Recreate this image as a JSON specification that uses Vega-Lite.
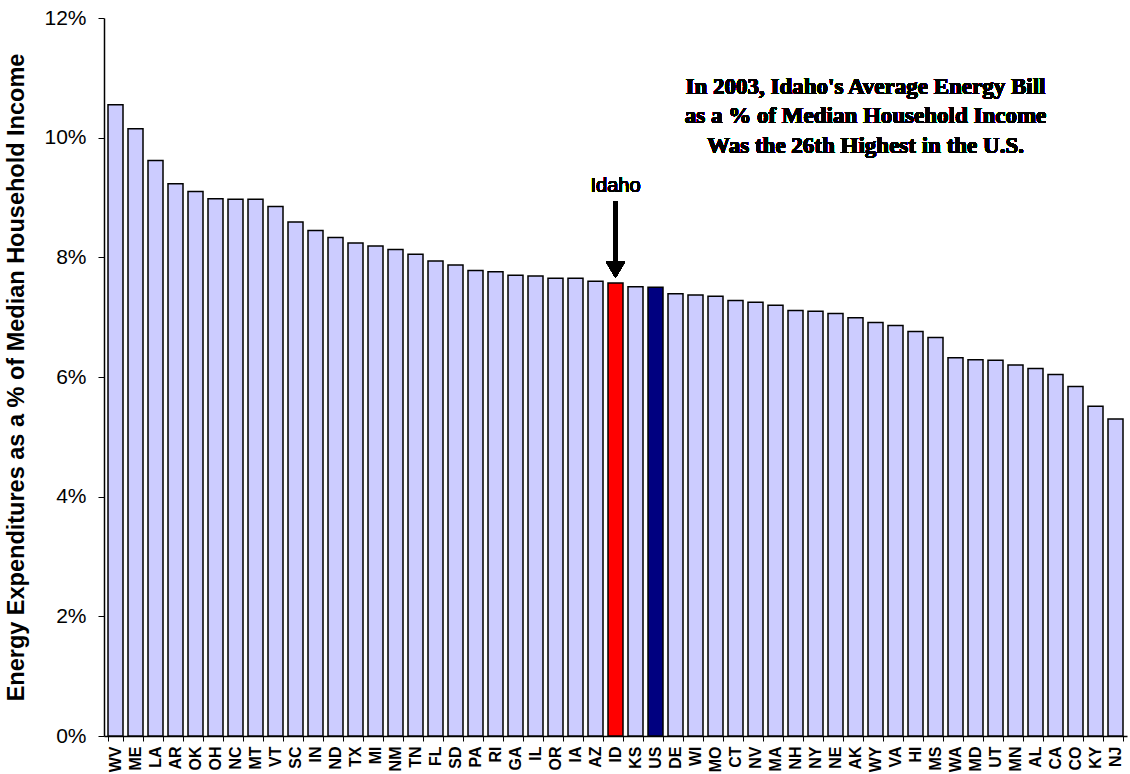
{
  "$schema": "https://vega.github.io/schema/vega-lite/v6.json",
  "width": 1023,
  "height": 718,
  "autosize": "none",
  "padding": {"left": 104, "top": 18, "right": 3, "bottom": 38},
  "background": "white",
  "config": {"view": {"stroke": null}, "font": "Liberation Sans"},
  "data": {
    "values": [
      {"state": "WV", "value": 10.55, "group": "State"},
      {"state": "ME", "value": 10.15, "group": "State"},
      {"state": "LA", "value": 9.62, "group": "State"},
      {"state": "AR", "value": 9.23, "group": "State"},
      {"state": "OK", "value": 9.10, "group": "State"},
      {"state": "OH", "value": 8.98, "group": "State"},
      {"state": "NC", "value": 8.97, "group": "State"},
      {"state": "MT", "value": 8.97, "group": "State"},
      {"state": "VT", "value": 8.85, "group": "State"},
      {"state": "SC", "value": 8.59, "group": "State"},
      {"state": "IN", "value": 8.45, "group": "State"},
      {"state": "ND", "value": 8.33, "group": "State"},
      {"state": "TX", "value": 8.24, "group": "State"},
      {"state": "MI", "value": 8.19, "group": "State"},
      {"state": "NM", "value": 8.13, "group": "State"},
      {"state": "TN", "value": 8.05, "group": "State"},
      {"state": "FL", "value": 7.94, "group": "State"},
      {"state": "SD", "value": 7.87, "group": "State"},
      {"state": "PA", "value": 7.78, "group": "State"},
      {"state": "RI", "value": 7.76, "group": "State"},
      {"state": "GA", "value": 7.70, "group": "State"},
      {"state": "IL", "value": 7.69, "group": "State"},
      {"state": "OR", "value": 7.65, "group": "State"},
      {"state": "IA", "value": 7.65, "group": "State"},
      {"state": "AZ", "value": 7.60, "group": "State"},
      {"state": "ID", "value": 7.57, "group": "Idaho"},
      {"state": "KS", "value": 7.51, "group": "State"},
      {"state": "US", "value": 7.50, "group": "US"},
      {"state": "DE", "value": 7.39, "group": "State"},
      {"state": "WI", "value": 7.37, "group": "State"},
      {"state": "MO", "value": 7.35, "group": "State"},
      {"state": "CT", "value": 7.28, "group": "State"},
      {"state": "NV", "value": 7.25, "group": "State"},
      {"state": "MA", "value": 7.20, "group": "State"},
      {"state": "NH", "value": 7.11, "group": "State"},
      {"state": "NY", "value": 7.10, "group": "State"},
      {"state": "NE", "value": 7.06, "group": "State"},
      {"state": "AK", "value": 6.99, "group": "State"},
      {"state": "WY", "value": 6.91, "group": "State"},
      {"state": "VA", "value": 6.86, "group": "State"},
      {"state": "HI", "value": 6.76, "group": "State"},
      {"state": "MS", "value": 6.66, "group": "State"},
      {"state": "WA", "value": 6.32, "group": "State"},
      {"state": "MD", "value": 6.29, "group": "State"},
      {"state": "UT", "value": 6.28, "group": "State"},
      {"state": "MN", "value": 6.20, "group": "State"},
      {"state": "AL", "value": 6.14, "group": "State"},
      {"state": "CA", "value": 6.04, "group": "State"},
      {"state": "CO", "value": 5.84, "group": "State"},
      {"state": "KY", "value": 5.51, "group": "State"},
      {"state": "NJ", "value": 5.30, "group": "State"}
    ]
  },
  "encoding": {
    "x": {
      "field": "state",
      "type": "nominal",
      "sort": null,
      "scale": {"paddingInner": 0.25, "paddingOuter": 0.2},
      "axis": {
        "title": null,
        "labelAngle": -90,
        "labelFont": "Liberation Sans",
        "labelFontWeight": "bold",
        "labelFontSize": 16,
        "labelColor": "black",
        "labelPadding": 5,
        "tickColor": "black",
        "tickSize": 5,
        "tickBand": "extent",
        "domainColor": "black",
        "domainWidth": 1.5
      }
    }
  },
  "layer": [
    {
      "mark": {"type": "bar", "stroke": "black", "strokeWidth": 1.5},
      "encoding": {
        "y": {
          "field": "value",
          "type": "quantitative",
          "scale": {"domain": [0, 12], "nice": false},
          "axis": {
            "values": [0, 2, 4, 6, 8, 10, 12],
            "labelExpr": "datum.value + '%'",
            "grid": false,
            "title": "Energy Expenditures as a % of Median Household Income",
            "titleFont": "Liberation Sans",
            "titleFontSize": 23.5,
            "titleFontWeight": "bold",
            "titleColor": "black",
            "titlePadding": 15,
            "labelFont": "Liberation Sans",
            "labelFontSize": 21,
            "labelColor": "black",
            "labelPadding": 12,
            "tickColor": "black",
            "tickSize": 6,
            "domainColor": "black",
            "domainWidth": 1.5
          }
        },
        "fill": {
          "field": "group",
          "type": "nominal",
          "scale": {"domain": ["State", "Idaho", "US"], "range": ["#CCCCFF", "#FF0000", "#000080"]},
          "legend": null
        }
      }
    },
    {
      "mark": {"type": "rule", "color": "black", "strokeWidth": 4},
      "encoding": {
        "x": {"datum": "ID"},
        "y": {"datum": 8.93, "type": "quantitative"},
        "y2": {"datum": 7.88}
      }
    },
    {
      "mark": {"type": "point", "shape": "M-1,-0.85L1,-0.85L0,0.85Z", "filled": true, "color": "black", "opacity": 1, "size": 361},
      "encoding": {
        "x": {"datum": "ID"},
        "y": {"datum": 7.79, "type": "quantitative"}
      }
    },
    {
      "mark": {"type": "text", "font": "Liberation Sans", "fontSize": 20, "color": "black", "align": "center", "baseline": "alphabetic"},
      "encoding": {
        "x": {"datum": "ID"},
        "y": {"datum": 9.085, "type": "quantitative"},
        "text": {"value": "Idaho"}
      }
    },
    {
      "mark": {"type": "text", "font": "Liberation Serif", "fontWeight": "bold", "fontSize": 23, "lineHeight": 29.5, "color": "black", "align": "center", "baseline": "alphabetic", "dx": 10},
      "encoding": {
        "x": {"datum": "AK"},
        "y": {"datum": 10.73, "type": "quantitative"},
        "text": {"value": ["In 2003, Idaho's Average Energy Bill", "as a % of Median Household Income", "Was the 26th Highest in the U.S."]}
      }
    }
  ]
}
